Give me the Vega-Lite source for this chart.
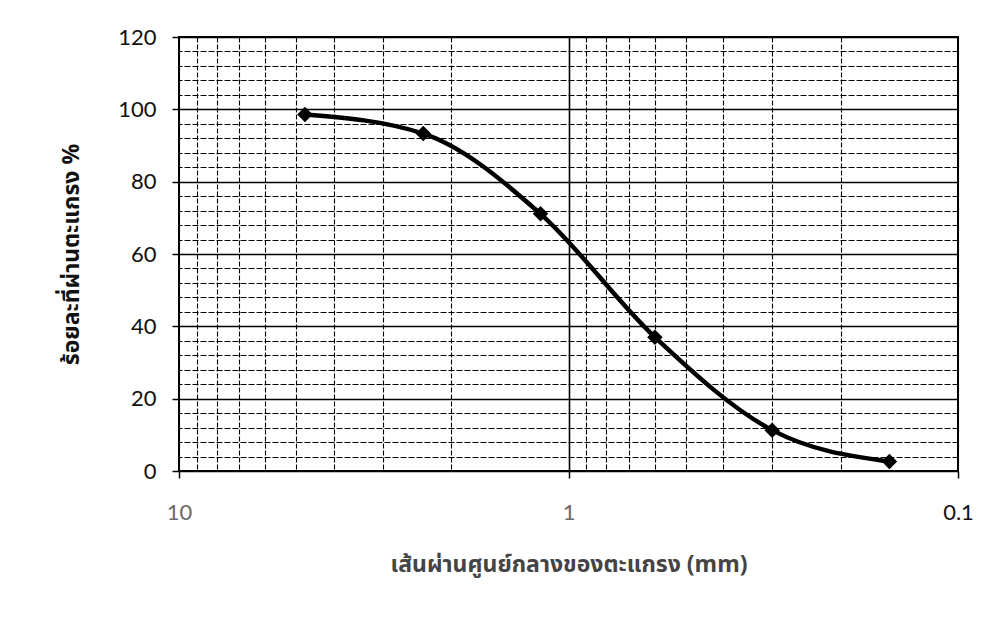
{
  "$schema": "https://vega.github.io/schema/vega-lite/v6.json",
  "width": 779,
  "height": 434,
  "autosize": {"type": "none"},
  "padding": {"left": 179, "top": 37, "right": 38, "bottom": 164},
  "background": "white",
  "data": {
    "values": [
      {"sieve_mm": 4.75, "passing": 98.6},
      {"sieve_mm": 2.36, "passing": 93.3},
      {"sieve_mm": 1.18, "passing": 71.1},
      {"sieve_mm": 0.6, "passing": 37.0},
      {"sieve_mm": 0.3, "passing": 11.3},
      {"sieve_mm": 0.15, "passing": 2.6}
    ]
  },
  "encoding": {
    "x": {
      "field": "sieve_mm",
      "type": "quantitative",
      "scale": {"type": "log", "domain": [0.1, 10], "reverse": true, "nice": false},
      "axis": {
        "title": "เส้นผ่านศูนย์กลางของตะแกรง (mm)",
        "values": [10, 9, 8, 7, 6, 5, 4, 3, 2, 1, 0.9, 0.8, 0.7, 0.6, 0.5, 0.4, 0.3, 0.2, 0.1],
        "format": "~g",
        "labelExpr": "datum.value === 10 || datum.value === 1 || datum.value === 0.1 ? datum.label : ''",
        "labelColor": {"condition": {"test": "datum.value === 0.1", "value": "#111111"}, "value": "#6a6a6a"},
        "labelFontSize": 22,
        "labelFont": "Lato, Open Sans, sans-serif",
        "labelPadding": 24,
        "labelFlush": false,
        "labelOverlap": false,
        "tickSize": {"condition": {"test": "datum.value === 10 || datum.value === 1 || datum.value === 0.1", "value": 7}, "value": 0},
        "tickColor": "black",
        "tickWidth": 1.5,
        "domain": false,
        "grid": true,
        "gridColor": "black",
        "gridWidth": {"condition": {"test": "datum.value === 1", "value": 1.6}, "value": 1.1},
        "gridDash": {"condition": {"test": "datum.value === 1", "value": []}, "value": [5, 2]},
        "titleFont": "Noto Sans Thai, Tahoma, DejaVu Sans, sans-serif",
        "titleFontSize": 23,
        "titleFontWeight": "bold",
        "titleColor": "#444444",
        "titlePadding": 30
      }
    },
    "y": {
      "field": "passing",
      "type": "quantitative",
      "scale": {"domain": [0, 120], "nice": false},
      "axis": {
        "title": "ร้อยละที่ผ่านตะแกรง %",
        "values": [0, 4, 8, 12, 16, 20, 24, 28, 32, 36, 40, 44, 48, 52, 56, 60, 64, 68, 72, 76, 80, 84, 88, 92, 96, 100, 104, 108, 112, 116, 120],
        "labelExpr": "datum.value % 20 === 0 ? datum.label : ''",
        "labelFontSize": 22,
        "labelFont": "Lato, Open Sans, sans-serif",
        "labelColor": "#111111",
        "labelPadding": 16,
        "labelOverlap": false,
        "tickSize": {"condition": {"test": "datum.value % 20 === 0", "value": 7}, "value": 0},
        "tickColor": "black",
        "tickWidth": 1.5,
        "domain": false,
        "grid": true,
        "gridColor": "black",
        "gridWidth": {"condition": {"test": "datum.value % 20 === 0", "value": 1.6}, "value": 1.0},
        "gridDash": {"condition": {"test": "datum.value % 20 === 0", "value": []}, "value": [6, 2]},
        "titleFont": "Noto Sans Thai, Tahoma, DejaVu Sans, sans-serif",
        "titleFontSize": 23,
        "titleFontWeight": "bold",
        "titleColor": "#111111",
        "titlePadding": 34
      }
    }
  },
  "layer": [
    {
      "mark": {"type": "line", "interpolate": "monotone", "color": "black", "strokeWidth": 4.5}
    },
    {
      "mark": {"type": "point", "shape": "diamond", "filled": true, "color": "black", "size": 240, "opacity": 1}
    }
  ],
  "config": {
    "view": {"stroke": "black", "strokeWidth": 2}
  }
}
